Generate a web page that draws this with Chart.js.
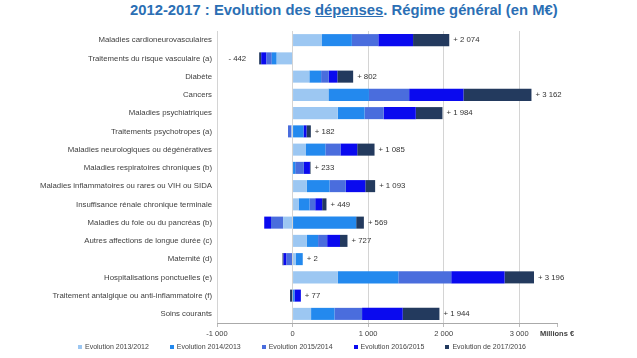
<!DOCTYPE html>
<html>
<head>
<meta charset="utf-8">
<script src="https://cdn.jsdelivr.net/npm/chart.js@4/dist/chart.umd.min.js"></script>
<style>
  body { margin: 0; background: #fff; font-family: "Liberation Sans", Arial, sans-serif; }
  #wrap { position: relative; width: 637px; height: 358px; }
  #title { position: absolute; top: 2px; left: 130px; font-size: 14.8px; font-weight: bold; color: #2b6fb4; white-space: nowrap; }
  #legend { position: absolute; top: 343px; left: 78px; display: flex; gap: 21px; font-size: 7px; color: #444; }
  .item { display: flex; align-items: center; }
  .box { width: 4px; height: 4px; margin-right: 3px; }
  canvas { position: absolute; left: 0; top: 0; }
</style>
</head>
<body>
<div id="wrap">
  <div id="title">2012-2017 : Evolution des <u>dépenses</u>. Régime général (en M€)</div>
  <canvas id="chart" width="637" height="358"></canvas>
  <div id="legend"></div>
</div>
<script>
// categories, top to bottom
const categories = [
  'Maladies cardioneurovasculaires',
  'Traitements du risque vasculaire (a)',
  'Diabète',
  'Cancers',
  'Maladies psychiatriques',
  'Traitements psychotropes (a)',
  'Maladies neurologiques ou dégénératives',
  'Maladies respiratoires chroniques (b)',
  'Maladies inflammatoires ou rares ou VIH ou SIDA',
  'Insuffisance rénale chronique terminale',
  'Maladies du foie ou du pancréas (b)',
  'Autres affections de longue durée (c)',
  'Maternité (d)',
  'Hospitalisations ponctuelles (e)',
  'Traitement antalgique ou anti-inflammatoire (f)',
  'Soins courants'
];

const seriesNames = ['Evolution 2013/2012', 'Evolution 2014/2013', 'Evolution 2015/2014', 'Evolution 2016/2015', 'Evolution de 2017/2016'];

// yearly evolution, M€
const evo2013 = [390, -210, 222, 475, 598, -15, 178, -5, 190, 80, -125, 190, 40, 600, 5, 245];
const evo2014 = [395, -65, 156, 536, 355, 145, 256, 35, 300, 145, 842, 148, 95, 800, 20, 310];
const evo2015 = [350, -70, 102, 532, 253, -45, 200, 115, 215, 75, -160, 120, -80, 700, -5, 365];
const evo2016 = [460, -70, 113, 719, 425, 40, 222, 80, 258, 92, -90, 170, -40, 706, 85, 538];
const evo2017 = [479, -27, 209, 900, 353, 57, 229, 8, 130, 57, 102, 99, -13, 390, -28, 486];

const xTicks = [-1000, 0, 1000, 2000, 3000];
const colors = ['#9cc7f2', '#2389ee', '#4a6ddd', '#0a0aef', '#233a5e'];

const allSeries = [evo2013, evo2014, evo2015, evo2016, evo2017];
const FONT = '"Liberation Sans", Arial, sans-serif';

// french style number: 2 074
const fmt = (v) => Math.abs(v).toString().replace(/\B(?=(\d{3})+(?!\d))/g, ' ');

// labels "+ 2 074" / "- 442" next to each bar
const totalsPlugin = {
  id: 'totals',
  afterDatasetsDraw(chart) {
    const ctx = chart.ctx;
    const x = chart.scales.x, y = chart.scales.y;
    ctx.save();
    ctx.font = '7.8px ' + FONT;
    ctx.fillStyle = '#333';
    ctx.textBaseline = 'middle';
    categories.forEach((c, i) => {
      let pos = 0, neg = 0;
      allSeries.forEach(s => { if (s[i] >= 0) pos += s[i]; else neg += s[i]; });
      const total = pos + neg;
      const yy = y.getPixelForValue(i);
      if (total >= 0) {
        ctx.textAlign = 'left';
        ctx.fillText('+ ' + fmt(total), x.getPixelForValue(pos) + 4, yy);
      } else {
        ctx.textAlign = 'right';
        ctx.fillText('- ' + fmt(total), x.getPixelForValue(neg) - 13, yy);
      }
    });
    ctx.restore();
  }
};

new Chart(document.getElementById('chart'), {
  type: 'bar',
  data: {
    labels: categories,
    datasets: allSeries.map((s, i) => ({
      label: seriesNames[i],
      data: s,
      backgroundColor: colors[i],
      borderWidth: 0,
      barPercentage: 0.66,
      categoryPercentage: 1
    }))
  },
  options: {
    indexAxis: 'y',
    responsive: false,
    animation: false,
    layout: { padding: { top: 31, right: 80, bottom: 19, left: 0 } },
    plugins: { legend: { display: false }, tooltip: { enabled: false } },
    scales: {
      x: {
        stacked: true,
        min: -1000,
        max: 3500,
        afterBuildTicks: (scale) => { scale.ticks = xTicks.concat([3500]).map(v => ({ value: v })); },
        afterFit: (scale) => { scale.height = 16; },
        grid: {
          color: (c) => c.tick && c.tick.value === 3500 ? 'rgba(0,0,0,0)' : '#d4d4d4',
          tickLength: 4,
          tickColor: '#bbb'
        },
        border: { color: '#aaa' },
        ticks: {
          padding: 2,
          color: '#404040',
          font: (c) => c.tick && c.tick.value === 3500
            ? { family: FONT, size: 7.5, weight: 'bold' }
            : { family: FONT, size: 7.5 },
          callback: (v) => v === 3500 ? 'Millions €' : (v < 0 ? '-' : '') + fmt(v)
        }
      },
      y: {
        stacked: true,
        afterFit: (scale) => { scale.width = 217; },
        grid: { display: false, drawTicks: false, tickLength: 0 },
        border: { display: false },
        ticks: { padding: 5, color: '#404040', font: { family: FONT, size: 7.8 } }
      }
    }
  },
  plugins: [totalsPlugin]
});

// html legend
const legend = document.getElementById('legend');
seriesNames.forEach((name, i) => {
  const item = document.createElement('div');
  item.className = 'item';
  item.innerHTML = '<div class="box" style="background:' + colors[i] + '"></div><span>' + name + '</span>';
  legend.appendChild(item);
});
</script>
</body>
</html>
